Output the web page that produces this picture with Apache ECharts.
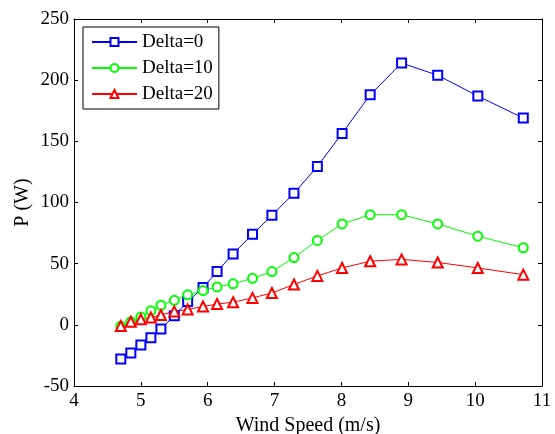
<!DOCTYPE html>
<html>
<head>
<meta charset="utf-8">
<script src="https://cdn.jsdelivr.net/npm/echarts@6/dist/echarts.min.js"></script>
<style>html,body{margin:0;padding:0;background:#fff}#c{width:555px;height:434px}</style>
</head>
<body>
<div id="c"></div>
<script>
const windSpeed = [4.7, 4.85, 5.0, 5.15, 5.3, 5.5, 5.7, 5.93, 6.14, 6.38, 6.67, 6.96, 7.29, 7.64, 8.01, 8.43, 8.9, 9.44, 10.04, 10.72];
const delta0  = [-28, -23, -16.5, -10.5, -3.5, 7.5, 19, 30.5, 43.5, 58, 74, 89.5, 107.5, 129.5, 156.5, 188, 214, 204, 187, 169];
const delta10 = [-1, 2.5, 6.5, 11.5, 16, 20, 24.5, 28, 31, 33.5, 38, 43.5, 55, 69, 82.5, 90, 90, 82.5, 72.5, 63];
const delta20 = [-1, 2.5, 4.5, 6, 8, 11, 12.5, 15, 17, 18.5, 22, 26, 33, 40, 46.5, 52, 53.5, 51, 46.5, 41];
const seriesNames = ['Delta=0', 'Delta=10', 'Delta=20'];
const xTicks = {min: 4, max: 11, interval: 1};
const yTicks = {min: -50, max: 250, interval: 50};

const font = 'Liberation Serif';
const pairs = arr => windSpeed.map((x, i) => [x, arr[i]]);
const axisLine = {show: true, onZero: false, lineStyle: {color: '#000', width: 1}};
const axisTick = {show: true, inside: true, length: 4, lineStyle: {color: '#000'}};
const lbl = {color: '#000', fontFamily: font, fontSize: 19};

const chart = echarts.init(document.getElementById('c'));
chart.setOption({
  animation: false,
  backgroundColor: '#fff',
  grid: {left: 74, right: 13, top: 19, bottom: 48, containLabel: false, outerBoundsMode: 'none'},
  legend: {
    orient: 'vertical', left: 83, top: 27,
    data: seriesNames,
    backgroundColor: '#fff', borderColor: '#000', borderWidth: 1,
    padding: [5, 6, 5, 8], itemGap: 6, itemWidth: 45, itemHeight: 10,
    textStyle: {color: '#000', fontFamily: font, fontSize: 19, lineHeight: 20},
    borderRadius: 0
  },
  xAxis: [
    {type: 'value', ...xTicks, name: 'Wind Speed (m/s)', nameLocation: 'middle', nameGap: 29,
     nameTextStyle: {color: '#000', fontFamily: font, fontSize: 20},
     axisLine, axisTick, axisLabel: {...lbl, margin: 6}, splitLine: {show: false}},
    {type: 'value', ...xTicks, position: 'top', axisLine, axisTick, axisLabel: {show: false}, splitLine: {show: false}}
  ],
  yAxis: [
    {type: 'value', ...yTicks, name: 'P (W)', nameLocation: 'middle', nameGap: 41, nameMoveOverlap: false,
     nameTextStyle: {color: '#000', fontFamily: font, fontSize: 20},
     axisLine, axisTick, axisLabel: {...lbl, margin: 5}, splitLine: {show: false}},
    {type: 'value', ...yTicks, position: 'right', axisLine, axisTick, axisLabel: {show: false}, splitLine: {show: false}}
  ],
  series: [
    {name: seriesNames[0], type: 'line', data: pairs(delta0), symbol: 'emptyRect', symbolSize: 9,
     color: '#0000ff', lineStyle: {width: 1, color: '#0000ff'}, itemStyle: {color: '#0000ff', borderWidth: 1}},
    {name: seriesNames[1], type: 'line', data: pairs(delta10), symbol: 'emptyCircle', symbolSize: 9,
     color: '#00ff00', lineStyle: {width: 1, color: '#00ff00'}, itemStyle: {color: '#00ff00', borderWidth: 1}},
    {name: seriesNames[2], type: 'line', data: pairs(delta20), symbol: 'emptyTriangle', symbolSize: 10,
     color: '#ff0000', lineStyle: {width: 1, color: '#ff0000'}, itemStyle: {color: '#ff0000', borderWidth: 1}}
  ]
});
</script>
</body>
</html>
